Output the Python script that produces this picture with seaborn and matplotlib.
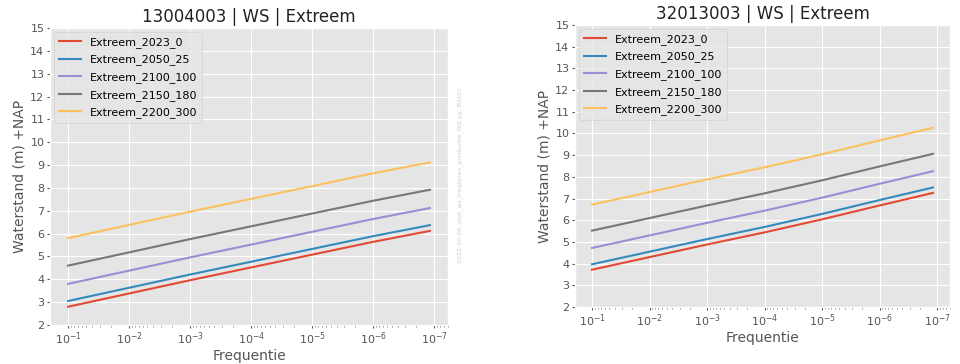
import matplotlib
matplotlib.use("Agg")
import matplotlib.pyplot as plt
import matplotlib.ticker as mticker
import seaborn as sns
import pandas as pd
import numpy as np

plt.style.use("ggplot")

# x positions (frequency per year)
freq = [1e-1, 1e-2, 1e-3, 1e-4, 1e-5, 1e-6, 1.18e-7]
xticks = [1e-1, 1e-2, 1e-3, 1e-4, 1e-5, 1e-6, 1e-7]
series_names = ["Extreem_2023_0", "Extreem_2050_25", "Extreem_2100_100",
                "Extreem_2150_180", "Extreem_2200_300"]
colors = ["#E24A33", "#348ABD", "#988ED5", "#777777", "#FBC15E"]

# Station 13004003
left_2023 = [2.80, 3.38, 3.96, 4.52, 5.08, 5.64, 6.12]
left_2050 = [3.05, 3.63, 4.21, 4.77, 5.33, 5.89, 6.37]
left_2100 = [3.80, 4.38, 4.96, 5.52, 6.08, 6.64, 7.12]
left_2150 = [4.60, 5.18, 5.76, 6.32, 6.88, 7.44, 7.92]
left_2200 = [5.80, 6.38, 6.96, 7.52, 8.08, 8.64, 9.12]

# Station 32013003
right_2023 = [3.72, 4.30, 4.88, 5.44, 6.04, 6.68, 7.26]
right_2050 = [3.97, 4.55, 5.13, 5.69, 6.29, 6.93, 7.51]
right_2100 = [4.72, 5.30, 5.88, 6.44, 7.04, 7.68, 8.26]
right_2150 = [5.52, 6.10, 6.68, 7.24, 7.84, 8.48, 9.06]
right_2200 = [6.72, 7.30, 7.88, 8.44, 9.04, 9.68, 10.26]

titles = ["13004003 | WS | Extreem", "32013003 | WS | Extreem"]
yticks = list(range(2, 16))
watermark = "2022-10-28, plot_ws_freqlijnen_productie_WZ.py, BADO"


def make_df(vals):
    rows = []
    for name, v in zip(series_names, vals):
        for f, y in zip(freq, v):
            rows.append({"Frequentie": f, "Waterstand": y, "serie": name})
    return pd.DataFrame(rows)


dfs = [make_df([left_2023, left_2050, left_2100, left_2150, left_2200]),
       make_df([right_2023, right_2050, right_2100, right_2150, right_2200])]

fig = plt.figure(figsize=(9.6, 3.64), dpi=100)
positions = [[50 / 960, 1 - 325 / 364, 398 / 960, 297 / 364],
             [575 / 960, 1 - 307 / 364, 375 / 960, 282 / 364]]

for df, pos, title in zip(dfs, positions, titles):
    ax = fig.add_axes(pos)
    sns.lineplot(data=df, x="Frequentie", y="Waterstand", hue="serie",
                 palette=colors, ax=ax, linewidth=1.5, legend=True)
    ax.set_xscale("log")
    ax.invert_xaxis()
    ax.xaxis.set_major_locator(mticker.FixedLocator(xticks))
    ax.xaxis.set_minor_formatter(mticker.NullFormatter())
    ax.set_ylim(2, 15)
    ax.set_yticks(yticks)
    ax.set_xlabel("Frequentie", fontsize=10, color="#555555", labelpad=1)
    ax.set_ylabel("Waterstand (m) +NAP", fontsize=10, color="#555555", labelpad=3)
    ax.set_title(title, fontsize=12, color="#222222", pad=4)
    ax.tick_params(axis="both", which="major", labelsize=8, colors="#555555",
                   length=2.5, pad=1.5)
    ax.tick_params(axis="x", which="minor", length=1.5, colors="#777777")
    leg = ax.legend(loc="upper left", fontsize=8, title=None, labelspacing=0.6,
                    borderaxespad=0.4)

fig.text(460 / 960, 1 - 175 / 364, watermark, rotation=90, fontsize=4.5,
         color="#cccccc", ha="center", va="center")

fig.savefig("out.png", dpi=100)
